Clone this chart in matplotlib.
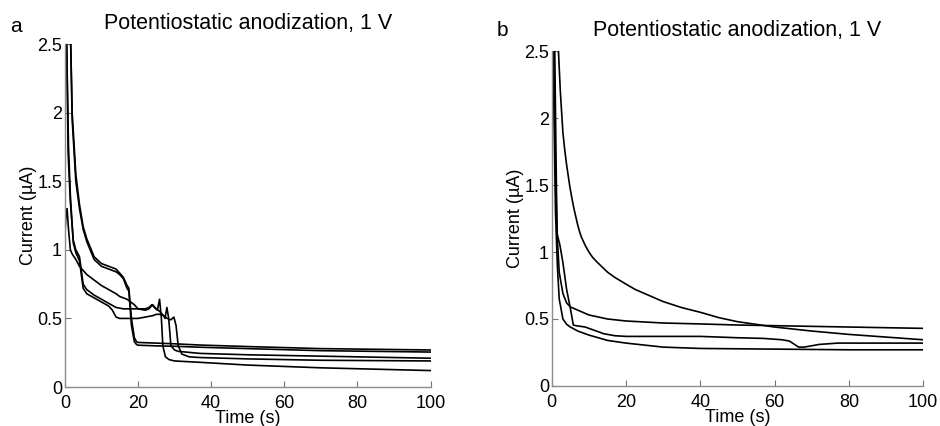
import numpy as np
import matplotlib
matplotlib.use('Agg')
import matplotlib.pyplot as plt

plt.rcParams['font.family'] = ['Liberation Sans', 'DejaVu Sans']

# panel a - five anodization runs
a1_t = [0, 1, 1.6, 2, 3, 4, 5, 6, 8, 10, 12, 14, 15, 16, 17, 17.5, 18.2, 19, 19.6, 20, 25, 30, 37, 50, 70, 100]
a1_i = [3.0, 3.0, 2.5, 2.0, 1.55, 1.33, 1.17, 1.08, 0.95, 0.9, 0.88, 0.86, 0.83, 0.8, 0.74, 0.72, 0.5, 0.36, 0.33, 0.325, 0.32, 0.315, 0.306, 0.295, 0.28, 0.27]

a2_t = a1_t
a2_i = [3.0, 3.0, 2.5, 1.95, 1.5, 1.3, 1.15, 1.06, 0.93, 0.88, 0.86, 0.84, 0.82, 0.79, 0.72, 0.7, 0.45, 0.33, 0.31, 0.305, 0.30, 0.297, 0.29, 0.28, 0.265, 0.255]

a3_t = [0, 0.3, 0.6, 1, 1.5, 2, 3, 4, 6, 8, 10, 12, 14, 15, 16, 17, 18, 19, 20, 22, 23, 24, 25, 26, 27, 27.4, 27.9, 28.4, 29, 30, 31, 33, 37, 50, 70, 100]
a3_i = [1.1, 1.25, 1.3, 1.15, 1.0, 0.97, 0.93, 0.88, 0.82, 0.78, 0.74, 0.71, 0.68, 0.66, 0.65, 0.64, 0.62, 0.6, 0.57, 0.56, 0.57, 0.6, 0.57, 0.55, 0.52, 0.5, 0.58, 0.5, 0.3, 0.27, 0.26, 0.255, 0.245, 0.235, 0.225, 0.21]

a4_t = [0, 0.5, 0.9, 1.5, 2.3, 3, 4, 5, 6, 8, 10, 12, 14, 16, 18, 20, 22, 23, 23.8, 24.5, 25.3, 25.9, 26.4, 26.8, 27.5, 28.5, 30, 37, 50, 70, 100]
a4_i = [3.0, 2.5, 1.7, 1.35, 1.07, 1.0, 0.95, 0.75, 0.71, 0.67, 0.64, 0.61, 0.58, 0.57, 0.57, 0.57, 0.57, 0.58, 0.6, 0.58, 0.56, 0.64, 0.5, 0.3, 0.22, 0.2, 0.19, 0.18, 0.16, 0.14, 0.12]

a5_t = [0, 0.5, 1, 1.5, 2.3, 3, 4, 5, 6, 8, 10, 12, 13, 14, 15, 18, 20, 22, 24, 25, 26, 27, 28, 29, 29.8, 30.4, 31, 32, 34, 37, 50, 70, 100]
a5_i = [3.0, 2.5, 1.75, 1.4, 1.05, 0.98, 0.92, 0.72, 0.68, 0.65, 0.62, 0.59, 0.56, 0.51, 0.5, 0.5, 0.5, 0.51, 0.52, 0.53, 0.53, 0.52, 0.5, 0.49, 0.51, 0.45, 0.3, 0.24, 0.22, 0.215, 0.205, 0.195, 0.19]

# panel b - four runs
b1_t = [1.5, 1.8, 2.3, 3, 3.5, 4, 4.85, 5.5, 6, 7, 7.5, 8, 9, 10, 11, 12, 13.5, 15, 17, 20, 22.5, 25, 27.5, 30, 35, 40, 45, 50, 55, 60, 65, 70, 80, 90, 100]
b1_i = [2.9, 2.5, 2.2, 1.89, 1.76, 1.65, 1.49, 1.39, 1.32, 1.2, 1.15, 1.11, 1.05, 1.0, 0.96, 0.93, 0.89, 0.85, 0.81, 0.76, 0.72, 0.69, 0.66, 0.63, 0.585, 0.55, 0.51, 0.48, 0.46, 0.44, 0.425, 0.41, 0.385, 0.365, 0.345]

b2_t = [0, 0.5, 1, 1.5, 2, 3, 4, 5, 7.5, 10, 15, 20, 30, 40, 50, 60, 70, 80, 90, 100]
b2_i = [3.0, 2.5, 1.6, 1.1, 0.85, 0.69, 0.62, 0.59, 0.56, 0.53, 0.5, 0.485, 0.47, 0.463, 0.455, 0.45, 0.445, 0.44, 0.435, 0.43]

b3_t = [0, 0.8, 1.4, 2.2, 3, 4, 5, 5.8, 6.5, 9, 11, 14, 17, 20, 30, 40, 50, 57, 62, 64, 66.5, 68, 72, 77, 85, 100]
b3_i = [3.0, 2.5, 1.14, 1.05, 0.92, 0.72, 0.58, 0.455, 0.45, 0.44, 0.42, 0.39, 0.375, 0.37, 0.37, 0.37, 0.36, 0.355, 0.345, 0.335, 0.29, 0.29, 0.31, 0.32, 0.32, 0.32]

b4_t = [0, 0.3, 0.6, 1, 1.5, 2, 3, 4, 5, 7, 10, 15, 20, 30, 40, 60, 80, 100]
b4_i = [3.0, 2.6, 2.0, 1.3, 0.9, 0.65, 0.5, 0.46, 0.44, 0.41, 0.38, 0.34, 0.32, 0.29, 0.28, 0.275, 0.27, 0.27]

title = 'Potentiostatic anodization, 1 V'
xticks = [0, 20, 40, 60, 80, 100]
yticks = [0, 0.5, 1, 1.5, 2, 2.5]
ytick_labels = ['0', '0.5', '1', '1.5', '2', '2.5']

fig = plt.figure(figsize=(9.4, 4.26), dpi=100)
ax_a = fig.add_axes([0.069, 0.0915, 0.389, 0.805])
ax_b = fig.add_axes([0.587, 0.094, 0.395, 0.786])

panels = [
    (ax_a, [(a1_t, a1_i), (a2_t, a2_i), (a3_t, a3_i), (a4_t, a4_i), (a5_t, a5_i)]),
    (ax_b, [(b1_t, b1_i), (b2_t, b2_i), (b3_t, b3_i), (b4_t, b4_i)]),
]

for ax, curves in panels:
    for t, cur in curves:
        ax.plot(t, cur, color='black', lw=1.2)
    ax.set_xlim(0, 100)
    ax.set_ylim(0, 2.5)
    ax.set_xticks(xticks)
    ax.set_yticks(yticks)
    ax.set_yticklabels(ytick_labels)
    for s in ['top', 'right']:
        ax.spines[s].set_visible(False)
    for s in ['left', 'bottom']:
        ax.spines[s].set_color('0.55')
        ax.spines[s].set_linewidth(1.0)
    ax.tick_params(direction='in', length=4, color='0.45', labelsize=13, labelcolor='black')
    ax.tick_params(axis='y', pad=2)
    ax.tick_params(axis='x', pad=6)
    ax.set_xlabel('Time (s)', fontsize=13, labelpad=-2)
    ax.set_ylabel('Current (µA)', fontsize=13, labelpad=0)
    ax.set_title(title, fontsize=15.5, pad=11)

fig.text(0.011, 0.96, 'a', fontsize=15, va='top')
fig.text(0.528, 0.95, 'b', fontsize=15, va='top')

fig.savefig('out.png', dpi=100)
